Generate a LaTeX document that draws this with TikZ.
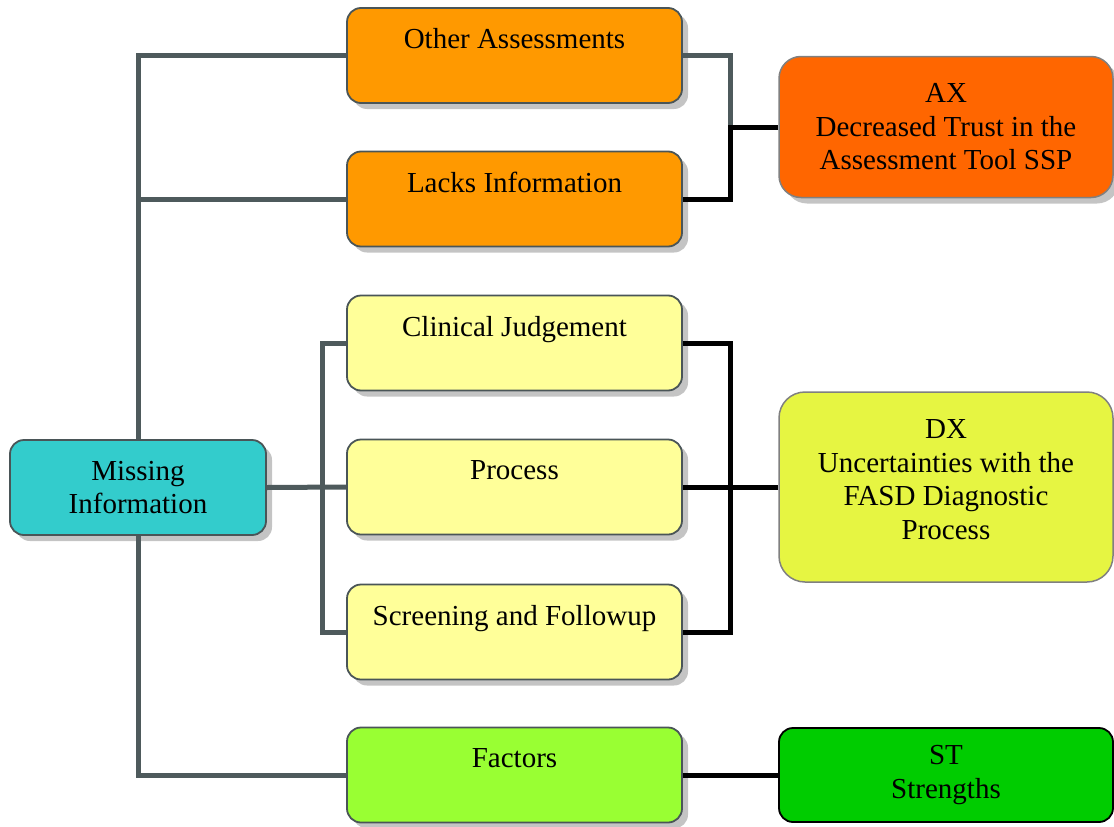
\documentclass[tikz,border=0pt]{standalone}
\usepackage{fontspec}
\setmainfont{Liberation Serif}
\usetikzlibrary{shadows}
\definecolor{lnGrey}{HTML}{4E5A5C}
\definecolor{bdGrey}{HTML}{4A5557}
\definecolor{cOrange}{HTML}{FF9900}
\definecolor{cAX}{HTML}{FF6600}
\definecolor{cYellow}{HTML}{FFFF99}
\definecolor{cDX}{HTML}{E6F542}
\definecolor{cFactors}{HTML}{99FF33}
\definecolor{cST}{HTML}{00CC00}
\definecolor{cTeal}{HTML}{33CCCC}
\definecolor{cShadow}{HTML}{C4C4C4}
\tikzset{
  shd/.style={general shadow={shadow xshift=6pt, shadow yshift=-6pt, fill=cShadow}},
  box/.style={draw=bdGrey, line width=1.8pt, rounded corners=14pt, align=center,
    minimum width=335pt, minimum height=95pt, inner sep=0pt,
    font=\fontsize{29}{33.5}\selectfont, shd},
  rbox/.style={draw=gray, line width=1.5pt, rounded corners=22pt, align=center,
    minimum width=334pt, inner sep=0pt, font=\fontsize{29}{33.5}\selectfont},
  gline/.style={draw=lnGrey, line width=5pt},
  bline/.style={draw=black, line width=5pt}
}
\begin{document}
\begin{tikzpicture}[x=1pt,y=-1pt]
\useasboundingbox (0,0) rectangle (1114,827);
% left column boxes
\node[box, fill=cOrange] (oa) at (514.5,55.5) {Other Assessments\\\phantom{X}};
\node[box, fill=cOrange] (li) at (514.5,199) {Lacks Information\\\phantom{X}};
\node[box, fill=cYellow] (cj) at (514.5,343) {Clinical Judgement\\\phantom{X}};
\node[box, fill=cYellow] (pr) at (514.5,487) {Process\\\phantom{X}};
\node[box, fill=cYellow] (sf) at (514.5,632) {Screening and Followup\\\phantom{X}};
\node[box, fill=cFactors] (fa) at (514.5,775) {Factors\\\phantom{X}};
\node[box, fill=cTeal, minimum width=256pt] (mi) at (138,487.5) {Missing\\Information};
% right boxes
\node[rbox, fill=cAX, minimum height=141pt, shd] (ax) at (946,127) {AX\\Decreased Trust in the\\Assessment Tool SSP};
\node[rbox, fill=cDX, minimum height=190pt, rounded corners=26pt] (dx) at (946,487) {DX\\Uncertainties with the\\FASD Diagnostic\\Process\\[-18.5pt]};
\node[rbox, fill=cST, draw=black, line width=1.8pt, minimum height=94pt, rounded corners=14pt] (st) at (946,775) {ST\\Strengths};
% junctions
\coordinate (jl) at (322,487);
\coordinate (ja) at (730,127);
\coordinate (jd) at (730,487);
% grey connectors
\draw[gline] (mi.north) |- (oa.west);
\draw[gline] (mi.north |- li.west) -- (li.west);
\draw[gline] (mi.south) |- (fa.west);
\draw[gline] (mi.east) -- (pr.west);
\draw[gline] (cj.west) -| (jl) |- (sf.west);
\draw[gline] (oa.east) -| (ja);
% black connectors
\draw[bline] (li.east) -| (ja) -- (ax.west);
\draw[bline] (cj.east) -| (jd) |- (sf.east);
\draw[bline] (pr.east) -- (dx.west);
\draw[bline] (fa.east) -- (st.west);
\end{tikzpicture}
\end{document}
